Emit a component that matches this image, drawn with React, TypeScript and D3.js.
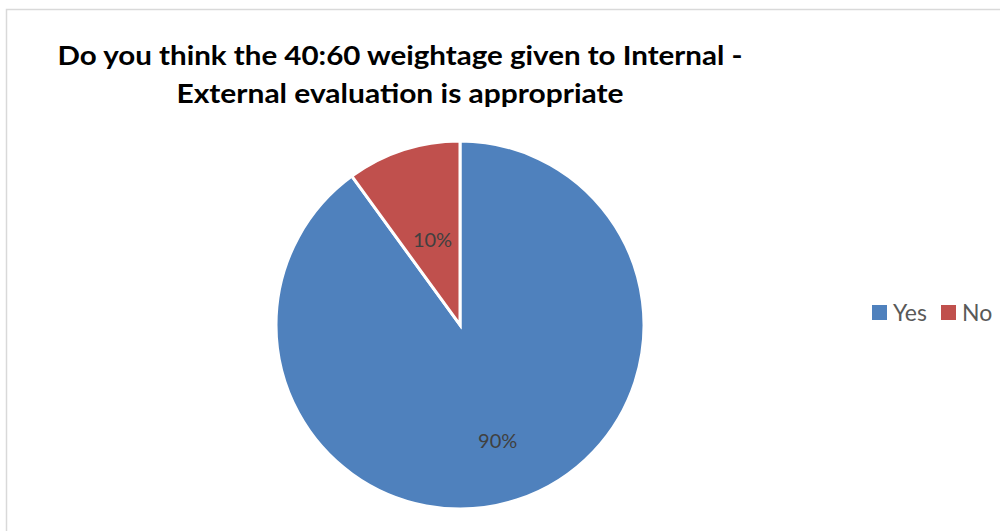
import * as d3 from "d3";
import React, { useEffect, useRef } from "react";

const categories = ["Yes", "No"];
const values = [90, 10];
const colors = ["#4f81bd", "#c0504d"];
const titleLines = [
    "Do you think the 40:60 weightage given to Internal -",
    "External evaluation is appropriate",
];

const width = 1000;
const height = 531;

export default function App() {
    const ref = useRef<SVGSVGElement>(null);

    useEffect(() => {
        const svg = d3.select(ref.current);
        svg.selectAll("*").remove();

        // chart border
        svg.append("rect")
            .attr("x", 6.5)
            .attr("y", 9.5)
            .attr("width", 1100)
            .attr("height", 600)
            .attr("fill", "#fff")
            .attr("stroke", "#d9d9d9")
            .attr("stroke-width", 1.5);

        // title (widths measured from reference)
        const titleWidths = [685, 447];
        svg.selectAll(".title")
            .data(titleLines)
            .enter()
            .append("text")
            .attr("class", "title")
            .attr("x", 400)
            .attr("y", (d, i) => 65 + i * 38)
            .attr("text-anchor", "middle")
            .attr("textLength", (d, i) => titleWidths[i])
            .attr("lengthAdjust", "spacingAndGlyphs")
            .style("font-family", "Lato, 'Open Sans', sans-serif")
            .style("font-weight", "bold")
            .style("font-size", "27px")
            .attr("fill", "#000")
            .text(d => d);

        const cx = 460, cy = 325, r = 184;
        const pie = d3.pie<number>().sort(null).value(d => d);
        const arcs = pie(values);
        const arc = d3.arc<d3.PieArcDatum<number>>().innerRadius(0).outerRadius(r);

        const g = svg.append("g").attr("transform", `translate(${cx},${cy})`);
        g.selectAll("path")
            .data(arcs)
            .enter()
            .append("path")
            .attr("d", arc)
            .attr("fill", (d, i) => colors[i])
            .attr("stroke", "#fff")
            .attr("stroke-width", 3)
            .attr("stroke-linejoin", "miter");

        // data labels at different radii (Excel best fit)
        const labelRadius = [122, 89];
        g.selectAll(".lbl")
            .data(arcs)
            .enter()
            .append("text")
            .attr("class", "lbl")
            .attr("transform", (d, i) => {
                const a = (d.startAngle + d.endAngle) / 2;
                const lr = labelRadius[i];
                return `translate(${Math.sin(a) * lr},${-Math.cos(a) * lr})`;
            })
            .attr("text-anchor", "middle")
            .attr("dy", "0.35em")
            .style("font-family", "Lato, 'Open Sans', sans-serif")
            .style("font-size", "20px")
            .attr("fill", "#404040")
            .text(d => `${d.data}%`);

        // legend
        const legendX = [872, 941];
        const leg = svg.selectAll(".leg")
            .data(categories)
            .enter()
            .append("g")
            .attr("class", "leg")
            .attr("transform", (d, i) => `translate(${legendX[i]},305)`);
        leg.append("rect")
            .attr("width", 15)
            .attr("height", 15)
            .attr("fill", (d, i) => colors[i]);
        leg.append("text")
            .attr("x", 21)
            .attr("y", 16)
            .style("font-family", "Lato, 'Open Sans', sans-serif")
            .style("font-size", "23px")
            .attr("fill", "#595959")
            .text(d => d);
    }, []);

    return (
        <svg ref={ref} width={width} height={height}
             style={{ position: "absolute", left: 0, top: 0, display: "block" }} />
    );
}
